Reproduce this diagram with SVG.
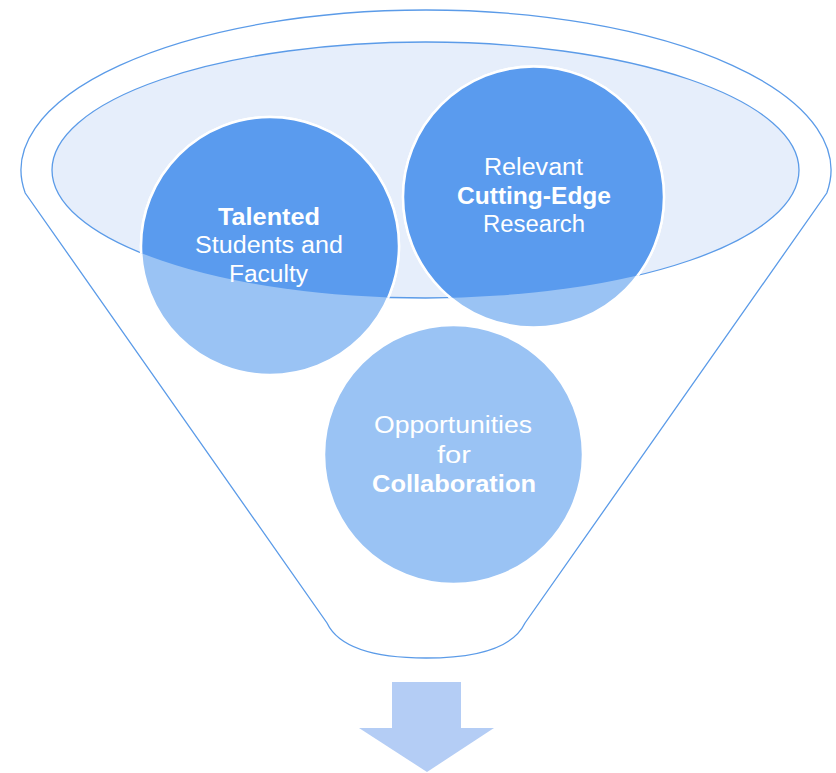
<svg xmlns="http://www.w3.org/2000/svg" width="836" height="773" viewBox="0 0 836 773">
  <style>
    .outline { fill: #ffffff; stroke: #5B9BE8; stroke-width: 1.3; }
    .rim { fill: #E6EEFB; stroke: #5B9BE8; stroke-width: 1.3; }
    .ball-light { fill: #9AC3F4; stroke: #ffffff; stroke-width: 2.5; }
    .ball-dark { fill: #5A9BEE; stroke: #ffffff; stroke-width: 2.5; }
    .label { font-family: "Liberation Sans", Arial, sans-serif; font-size: 23px; fill: #ffffff; text-anchor: middle; }
    .strong { font-weight: bold; }
    .arrow { fill: #B4CDF5; }
  </style>
  <defs>
    <clipPath id="mouth">
      <ellipse cx="425.5" cy="170" rx="373.5" ry="128"/>
    </clipPath>
  </defs>

  <!-- funnel body: top rim arc, tapering sides and rounded spout -->
  <g id="funnel">
    <path class="outline" d="M 25.2,193 A 405 160 0 1 1 826.8,193 L 525,623 C 512,650 472,658 426,658 C 380,658 340,650 327,623 Z"/>
    <ellipse class="rim" cx="425.5" cy="170" rx="373.5" ry="128"/>
  </g>

  <!-- circles: pale body, full colour where inside the funnel mouth -->
  <g id="node-talented">
    <circle class="ball-light" cx="270" cy="246" r="129"/>
    <circle class="ball-dark" cx="270" cy="246" r="129" clip-path="url(#mouth)"/>
    <text class="label strong" x="269" y="225" textLength="102" lengthAdjust="spacingAndGlyphs">Talented</text>
    <text class="label" x="269" y="253" textLength="148" lengthAdjust="spacingAndGlyphs">Students and</text>
    <text class="label" x="268.5" y="282" textLength="79" lengthAdjust="spacingAndGlyphs">Faculty</text>
  </g>

  <g id="node-research">
    <circle class="ball-light" cx="533.5" cy="197" r="130.5"/>
    <circle class="ball-dark" cx="533.5" cy="197" r="130.5" clip-path="url(#mouth)"/>
    <text class="label" x="533.5" y="175" textLength="99" lengthAdjust="spacingAndGlyphs">Relevant</text>
    <text class="label strong" x="534" y="204" textLength="154" lengthAdjust="spacingAndGlyphs">Cutting-Edge</text>
    <text class="label" x="534" y="232" textLength="102" lengthAdjust="spacingAndGlyphs">Research</text>
  </g>

  <g id="node-collaboration">
    <circle class="ball-light" cx="453.5" cy="454.5" r="129.5"/>
    <text class="label" x="453" y="433" textLength="158" lengthAdjust="spacingAndGlyphs">Opportunities</text>
    <text class="label" x="454" y="463" textLength="34" lengthAdjust="spacingAndGlyphs">for</text>
    <text class="label strong" x="454" y="492" textLength="164" lengthAdjust="spacingAndGlyphs">Collaboration</text>
  </g>

  <!-- output arrow below the spout -->
  <g id="connectors">
    <path class="arrow" d="M 392,682 L 461,682 L 461,728 L 494,728 L 427,772 L 359,728 L 392,728 Z"/>
  </g>
</svg>
